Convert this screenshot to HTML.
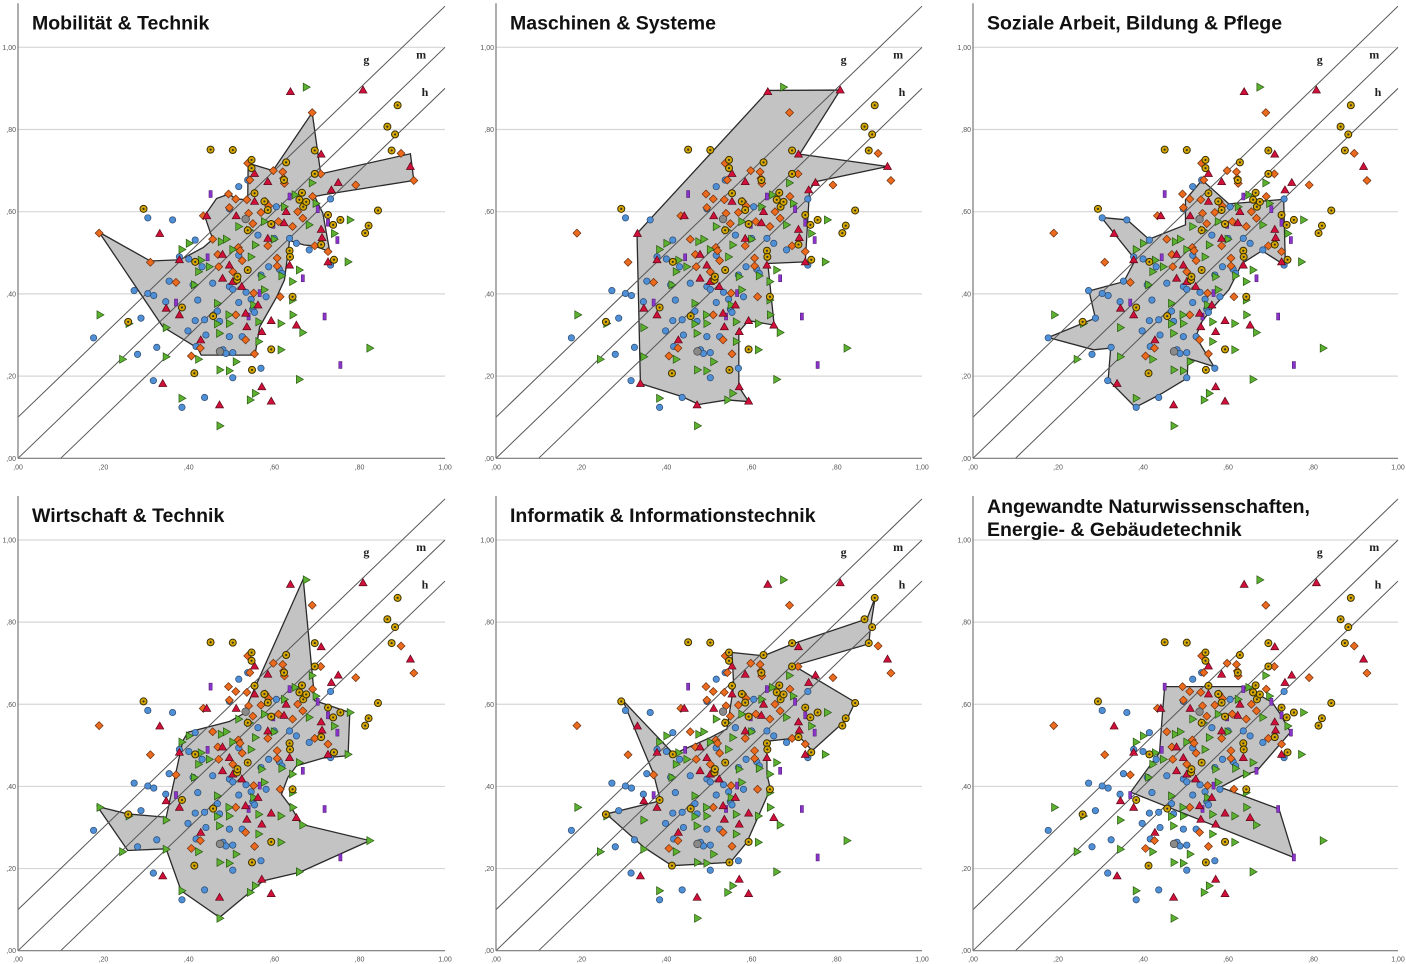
<!DOCTYPE html>
<html><head><meta charset="utf-8">
<style>
html,body{margin:0;padding:0;background:#fff;}
svg{display:block;}
.tick{font-family:"Liberation Sans",sans-serif;font-size:7px;fill:#555;}
.title{font-family:"Liberation Sans",sans-serif;font-weight:bold;font-size:19.5px;fill:#111;}
.lbl{font-family:"Liberation Serif",serif;font-weight:bold;font-size:12px;fill:#222;}
</style></head>
<body>
<svg id="chart" xmlns="http://www.w3.org/2000/svg" width="1406" height="964" viewBox="0 0 1406 964">
<rect width="1406" height="964" fill="#fff"/>
</svg>
<script>
const blueCircles = [[.177,.293],[.272,.408],[.288,.341],[.28,.253],[.304,.401],[.318,.396],[.325,.27],[.317,.189],[.304,.585],[.362,.58],[.354,.431],[.346,.381],[.384,.124],[.398,.31],[.415,.335],[.415,.531],[.421,.385],[.417,.272],[.437,.148],[.437,.337],[.44,.30],[.431,.466],[.467,.358],[.456,.426],[.472,.333],[.48,.264],[.487,.255],[.495,.296],[.503,.196],[.503,.257],[.495,.418],[.503,.411],[.517,.379],[.495,.607],[.517,.661],[.517,.494],[.525,.296],[.534,.404],[.538,.677],[.546,.387],[.55,.363],[.554,.355],[.569,.219],[.562,.543],[.569,.446],[.581,.393],[.587,.466],[.605,.612],[.6,.535],[.612,.46],[.618,.45],[.636,.535],[.652,.523],[.682,.507],[.732,.631],[.732,.47],[.40,.485],[.41,.422],[.378,.49]];
const orangeDiamonds = [[.19,.548],[.31,.477],[.37,.428],[.406,.249],[.427,.268],[.434,.59],[.456,.533],[.468,.496],[.47,.466],[.493,.643],[.495,.61],[.51,.631],[.503,.454],[.51,.349],[.516,.513],[.52,.505],[.525,.481],[.533,.288],[.536,.629],[.538,.718],[.543,.677],[.54,.596],[.552,.402],[.55,.571],[.554,.254],[.569,.598],[.579,.625],[.585,.517],[.598,.70],[.607,.487],[.607,.468],[.614,.393],[.62,.697],[.622,.681],[.624,.669],[.643,.564],[.655,.60],[.667,.584],[.689,.841],[.69,.637],[.695,.517],[.709,.692],[.726,.503],[.791,.665],[.897,.742],[.927,.676],[.587,.614],[.61,.576]];
const redTriangles = [[.339,.182],[.332,.547],[.347,.365],[.378,.349],[.378,.483],[.428,.288],[.442,.59],[.472,.13],[.479,.496],[.479,.438],[.495,.47],[.503,.43],[.511,.59],[.524,.418],[.533,.353],[.536,.32],[.554,.693],[.554,.625],[.562,.373],[.571,.174],[.571,.308],[.585,.673],[.585,.535],[.593,.139],[.593,.335],[.623,.573],[.628,.60],[.636,.47],[.638,.892],[.652,.324],[.71,.74],[.71,.557],[.726,.478],[.734,.653],[.75,.671],[.808,.896],[.919,.71],[.712,.537]];
const greenTriangles = [[.192,.349],[.245,.241],[.26,.328],[.347,.247],[.347,.318],[.384,.508],[.384,.146],[.401,.523],[.413,.422],[.423,.241],[.423,.454],[.429,.482],[.448,.466],[.467,.377],[.467,.327],[.472,.304],[.473,.215],[.476,.527],[.488,.533],[.473,.079],[.495,.213],[.494,.349],[.495,.328],[.503,.508],[.511,.235],[.517,.564],[.542,.555],[.544,.142],[.546,.49],[.552,.373],[.556,.519],[.556,.158],[.564,.284],[.564,.332],[.571,.442],[.577,.41],[.577,.576],[.6,.533],[.616,.328],[.618,.444],[.616,.264],[.624,.612],[.643,.43],[.644,.349],[.649,.641],[.659,.458],[.659,.192],[.667,.306],[.675,.903],[.682,.568],[.689,.67],[.698,.62],[.741,.547],[.773,.478],[.778,.58],[.824,.268],[.643,.385]];
const yellowSuns = [[.294,.607],[.258,.332],[.384,.367],[.413,.207],[.415,.478],[.451,.751],[.457,.346],[.503,.75],[.513,.434],[.514,.442],[.538,.555],[.538,.458],[.547,.726],[.547,.706],[.548,.215],[.554,.645],[.577,.625],[.585,.604],[.593,.57],[.593,.265],[.628,.72],[.623,.677],[.636,.505],[.637,.49],[.643,.393],[.659,.629],[.665,.646],[.668,.612],[.675,.624],[.695,.749],[.695,.692],[.71,.52],[.726,.592],[.738,.568],[.74,.483],[.755,.58],[.813,.548],[.821,.566],[.843,.603],[.865,.807],[.875,.749],[.883,.788],[.889,.859]];
const purpleBars = [[.451,.643],[.37,.379],[.444,.489],[.54,.345],[.566,.402],[.636,.637],[.667,.438],[.718,.345],[.726,.573],[.748,.531],[.755,.227],[.598,.568],[.702,.606]];
const grayCircles = [[.473,.26],[.533,.582]];

const panelTitles = [["Mobilität & Technik"],["Maschinen & Systeme"],["Soziale Arbeit, Bildung & Pflege"],["Wirtschaft & Technik"],["Informatik & Informationstechnik"],["Angewandte Naturwissenschaften,","Energie- & Gebäudetechnik"]];
const hullMobilitaet = [[.19,.55],[.31,.48],[.38,.483],[.434,.513],[.456,.533],[.437,.59],[.465,.632],[.494,.643],[.511,.631],[.538,.629],[.539,.717],[.552,.714],[.597,.70],[.689,.841],[.709,.692],[.919,.741],[.927,.676],[.714,.641],[.695,.637],[.714,.596],[.730,.503],[.692,.517],[.67,.519],[.636,.53],[.624,.434],[.606,.393],[.566,.32],[.555,.251],[.429,.251],[.421,.268],[.339,.32]];
const hullMaschinen = [[.331,.547],[.64,.895],[.808,.896],[.713,.74],[.919,.71],[.75,.673],[.736,.653],[.726,.478],[.638,.474],[.653,.324],[.593,.335],[.570,.308],[.570,.174],[.593,.138],[.542,.142],[.476,.131],[.437,.15],[.339,.182]];
const hullSoziale = [[.177,.294],[.288,.341],[.273,.407],[.355,.430],[.382,.483],[.302,.586],[.363,.580],[.414,.533],[.50,.568],[.50,.629],[.539,.677],[.602,.619],[.731,.630],[.735,.469],[.68,.505],[.633,.474],[.602,.410],[.563,.365],[.539,.333],[.524,.296],[.567,.223],[.506,.243],[.504,.195],[.445,.158],[.382,.124],[.318,.191],[.324,.268],[.284,.264]];
const hullWirtschaft = [[.186,.351],[.257,.333],[.347,.325],[.386,.511],[.398,.532],[.495,.558],[.526,.576],[.538,.601],[.668,.905],[.695,.609],[.777,.580],[.773,.475],[.714,.469],[.652,.450],[.632,.422],[.617,.381],[.640,.349],[.663,.308],[.824,.268],[.660,.191],[.574,.170],[.538,.138],[.472,.081],[.382,.146],[.347,.248],[.257,.244]];
const hullInformatik = [[.259,.333],[.386,.365],[.37,.430],[.298,.609],[.417,.479],[.503,.519],[.542,.540],[.558,.645],[.554,.726],[.628,.718],[.699,.748],[.871,.808],[.890,.860],[.879,.787],[.875,.747],[.699,.694],[.843,.605],[.824,.564],[.742,.487],[.714,.519],[.644,.511],[.636,.487],[.636,.430],[.644,.394],[.589,.264],[.550,.215],[.413,.207],[.347,.252]];
const hullNatur = [[.451,.643],[.637,.643],[.704,.605],[.723,.576],[.747,.532],[.668,.438],[.633,.426],[.582,.398],[.720,.345],[.755,.227],[.371,.386],[.439,.483],[.445,.568]];
const hulls = [hullMobilitaet,hullMaschinen,hullSoziale,hullWirtschaft,hullInformatik,hullNatur];
const tickValues = [0,.2,.4,.6,.8,1];
const tickLabels = [",00",",20",",40",",60",",80","1,00"];
const refLineOffsets = [.1,0,-.1];
const refLineLabels = ["g","m","h"];
const refLabelPos = [[.816,.961],[.944,.973],[.953,.882]];

const NS = "http://www.w3.org/2000/svg";
const svg = document.getElementById('chart');
const colX0 = [18,496,973], colX1 = [445,922,1398];
const rowY1 = [47.3,540], rowY0 = [458.3,950.7];

function mk(tag, attrs, parent){
  const e = document.createElementNS(NS, tag);
  for (const k in attrs) e.setAttribute(k, attrs[k]);
  parent.appendChild(e);
  return e;
}

for (let p = 0; p < 6; p++){
  const c = p % 3, r = Math.floor(p / 3);
  const x0 = colX0[c], x1 = colX1[c], yb = rowY0[r], yt = rowY1[r];
  const sx = v => x0 + v * (x1 - x0);
  const sy = v => yb - v * (yb - yt);
  const g = mk('g', {}, svg);
  
  

  tickValues.forEach((t, i) => {
    if (t > 0) {
      const l = mk('line', {x1:x0, x2:x1, y1:sy(t), y2:sy(t), stroke:'#d6d6d6', 'stroke-width':1.2}, g);
      
      
    }
    const yl = mk('text', {x:x0-2, y:sy(t)+2.5, 'text-anchor':'end', class:'tick'}, g);
    yl.textContent = tickLabels[i];
    
    
    const xl = mk('text', {x:sx(t), y:yb+11, 'text-anchor':'middle', class:'tick'}, g);
    xl.textContent = tickLabels[i];
    
    
  });

  const poly = mk('polygon', {points: hulls[p].map(q => sx(q[0]) + ',' + sy(q[1])).join(' '), fill:'#c3c3c3', stroke:'#2a2a2a', 'stroke-width':1.3, 'stroke-linejoin':'miter'}, g);
  
  

  refLineOffsets.forEach((o, i) => {
    const xa = Math.max(0, -o), ya = xa + o;
    const l = mk('line', {x1:sx(xa), y1:sy(ya), x2:sx(1), y2:sy(1 + o), stroke:'#555', 'stroke-width':1}, g);
    
    
    const t = mk('text', {x:sx(refLabelPos[i][0]), y:sy(refLabelPos[i][1]), 'text-anchor':'middle', class:'lbl'}, g);
    t.textContent = refLineLabels[i];
    
    
  });

  blueCircles.forEach(q => {
    const e = mk('circle', {cx:sx(q[0]), cy:sy(q[1]), r:3.2, fill:'#4f8fd6', stroke:'#2d4a6e', 'stroke-width':0.7}, g);
    
    
  });
  purpleBars.forEach(q => {
    const e = mk('rect', {x:sx(q[0])-1.6, y:sy(q[1])-3.5, width:3.2, height:7, fill:'#8a34c8', stroke:'#4a1a70', 'stroke-width':0.5}, g);
    
    
  });
  orangeDiamonds.forEach(q => {
    const X = sx(q[0]), Y = sy(q[1]);
    const e = mk('polygon', {points:`${X},${Y-4} ${X+4},${Y} ${X},${Y+4} ${X-4},${Y}`, fill:'#ec6a1e', stroke:'#6a3010', 'stroke-width':0.7}, g);
    
    
  });
  greenTriangles.forEach(q => {
    const X = sx(q[0]), Y = sy(q[1]);
    const e = mk('polygon', {points:`${X-3},${Y-4} ${X+4},${Y} ${X-3},${Y+4}`, fill:'#5cb230', stroke:'#2c5a14', 'stroke-width':0.7}, g);
    
    
  });
  redTriangles.forEach(q => {
    const X = sx(q[0]), Y = sy(q[1]);
    const e = mk('polygon', {points:`${X},${Y-4} ${X+4},${Y+3} ${X-4},${Y+3}`, fill:'#d0103a', stroke:'#5a0a18', 'stroke-width':0.7}, g);
    
    
  });
  yellowSuns.forEach(q => {
    const X = sx(q[0]), Y = sy(q[1]);
    const e = mk('circle', {cx:X, cy:Y, r:3.5, fill:'#d8a800', stroke:'#3a3000', 'stroke-width':1}, g);
    
    
    const d = mk('circle', {cx:X, cy:Y, r:1.1, fill:'#333'}, g);
    
    
  });
  grayCircles.forEach(q => {
    const e = mk('circle', {cx:sx(q[0]), cy:sy(q[1]), r:3.8, fill:'#8a8a8a', stroke:'#444', 'stroke-width':0.7}, g);
    
    
  });

  const ay = mk('line', {x1:x0, x2:x0, y1:yt-44, y2:yb, stroke:'#777', 'stroke-width':1.2}, g);
  
  
  const ax = mk('line', {x1:x0, x2:x1, y1:yb, y2:yb, stroke:'#777', 'stroke-width':1.2}, g);
  
  

  const lines = panelTitles[p];
  lines.forEach((s, i) => {
    const ty = lines.length > 1 ? yt - 27 + i * 23 : yt - 18;
    const t = mk('text', {x:x0 + 14, y:ty, class:'title'}, g);
    t.textContent = s;
    
    
  });
}
</script>
</body></html>
